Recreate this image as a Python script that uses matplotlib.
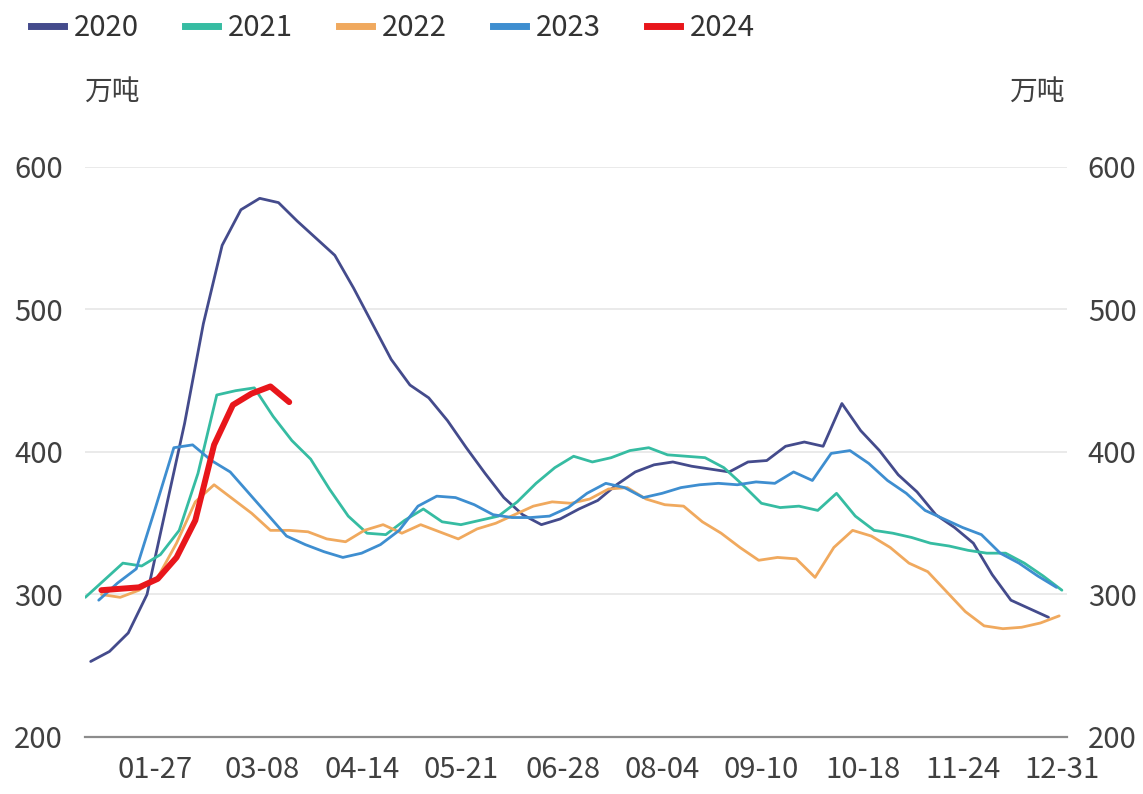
import matplotlib.pyplot as plt
import pandas as pd
from matplotlib.lines import Line2D

plt.rcParams['font.family'] = ['Noto Sans CJK SC', 'DejaVu Sans']

# weekly stock, 万吨; first observation date of each year
years = ['2020', '2021', '2022', '2023', '2024']
first_dates = ['2020-01-03', '2021-01-01', '2022-01-07', '2023-01-06', '2024-01-07']

v2020 = [253, 260, 273, 300, 360, 420, 490, 545, 570, 578, 575, 562, 550, 538,
         515, 490, 465, 447, 438, 422, 403, 385, 368, 356, 349, 353, 360, 366,
         377, 386, 391, 393, 390, 388, 386, 393, 394, 404, 407, 404, 434, 415,
         401, 384, 372, 356, 347, 336, 314, 296, 290, 284]
v2021 = [298, 310, 322, 320, 328, 345, 385, 440, 443, 445, 425, 408, 395, 374,
         355, 343, 342, 352, 360, 351, 349, 352, 355, 365, 378, 389, 397, 393,
         396, 401, 403, 398, 397, 396, 389, 377, 364, 361, 362, 359, 371, 355,
         345, 343, 340, 336, 334, 331, 329, 329, 322, 313, 303]
v2022 = [300, 298, 303, 312, 336, 365, 377, 367, 357, 345, 345, 344, 339, 337,
         345, 349, 343, 349, 344, 339, 346, 350, 356, 362, 365, 364, 367, 374,
         375, 367, 363, 362, 351, 343, 333, 324, 326, 325, 312, 333, 345, 341,
         333, 322, 316, 302, 288, 278, 276, 277, 280, 285]
v2023 = [296, 308, 318, 360, 403, 405, 394, 386, 371, 356, 341, 335, 330, 326,
         329, 335, 345, 362, 369, 368, 363, 356, 354, 354, 355, 361, 371, 378,
         375, 368, 371, 375, 377, 378, 377, 379, 378, 386, 380, 399, 401, 392,
         380, 371, 359, 353, 347, 342, 329, 322, 313, 305]
v2024 = [303, 304, 305, 311, 326, 352, 405, 433, 441, 446, 435]

values = [v2020, v2021, v2022, v2023, v2024]
colors = ['#444B8C', '#36BCA2', '#F0A95E', '#3E8ED0', '#E8161B']
widths = [2.0, 2.0, 2.0, 2.0, 4.3]

tick_days = [27, 67, 104, 141, 179, 216, 253, 291, 328, 365]
tick_labels = ['01-27', '03-08', '04-14', '05-21', '06-28',
               '08-04', '09-10', '10-18', '11-24', '12-31']

fig = plt.figure(figsize=(11.43, 7.94), dpi=100)
ax = fig.add_axes([0.0744, 0.0718, 0.8591, 0.7179])

for year, start, vals, c, lw in zip(years, first_dates, values, colors, widths):
    days = pd.date_range(start, periods=len(vals), freq='7D').dayofyear
    ax.plot(days, vals, color=c, lw=lw, solid_capstyle='round',
            solid_joinstyle='round', zorder=3 if year == '2024' else 2)

ax.set_xlim(0.9, 366.9)
ax.set_ylim(200, 600)
ax.set_yticks([200, 300, 400, 500, 600])
ax.set_xticks(tick_days)
ax.set_xticklabels(tick_labels)
ax.grid(axis='y', color='#E6E6E6', lw=1.2)
ax.set_axisbelow(True)
for s in ['top', 'right', 'left']:
    ax.spines[s].set_visible(False)
ax.spines['bottom'].set_color('#8C8C8C')
ax.spines['bottom'].set_linewidth(1.6)
ax.tick_params(length=0, labelsize=21, labelcolor='#404040')
ax.tick_params(axis='y', pad=16)
ax.tick_params(axis='x', pad=13)

ax2 = ax.twinx()
ax2.set_ylim(200, 600)
ax2.set_yticks([200, 300, 400, 500, 600])
for s in ax2.spines.values():
    s.set_visible(False)
ax2.tick_params(length=0, labelsize=21, labelcolor='#404040', pad=15)

fig.text(0.098, 0.883, '万吨', fontsize=20, color='#404040', ha='center', va='center')
fig.text(0.907, 0.883, '万吨', fontsize=20, color='#404040', ha='center', va='center')

handles = [Line2D([], [], color=c, lw=5) for c in colors]
fig.legend(handles, years, loc='center left', bbox_to_anchor=(0.0172, 0.965), ncol=5,
           frameon=False, fontsize=21, handlelength=1.12, handletextpad=0.35,
           columnspacing=1.58, labelcolor='#333333', borderaxespad=0)

fig.savefig('out.png', dpi=100)
